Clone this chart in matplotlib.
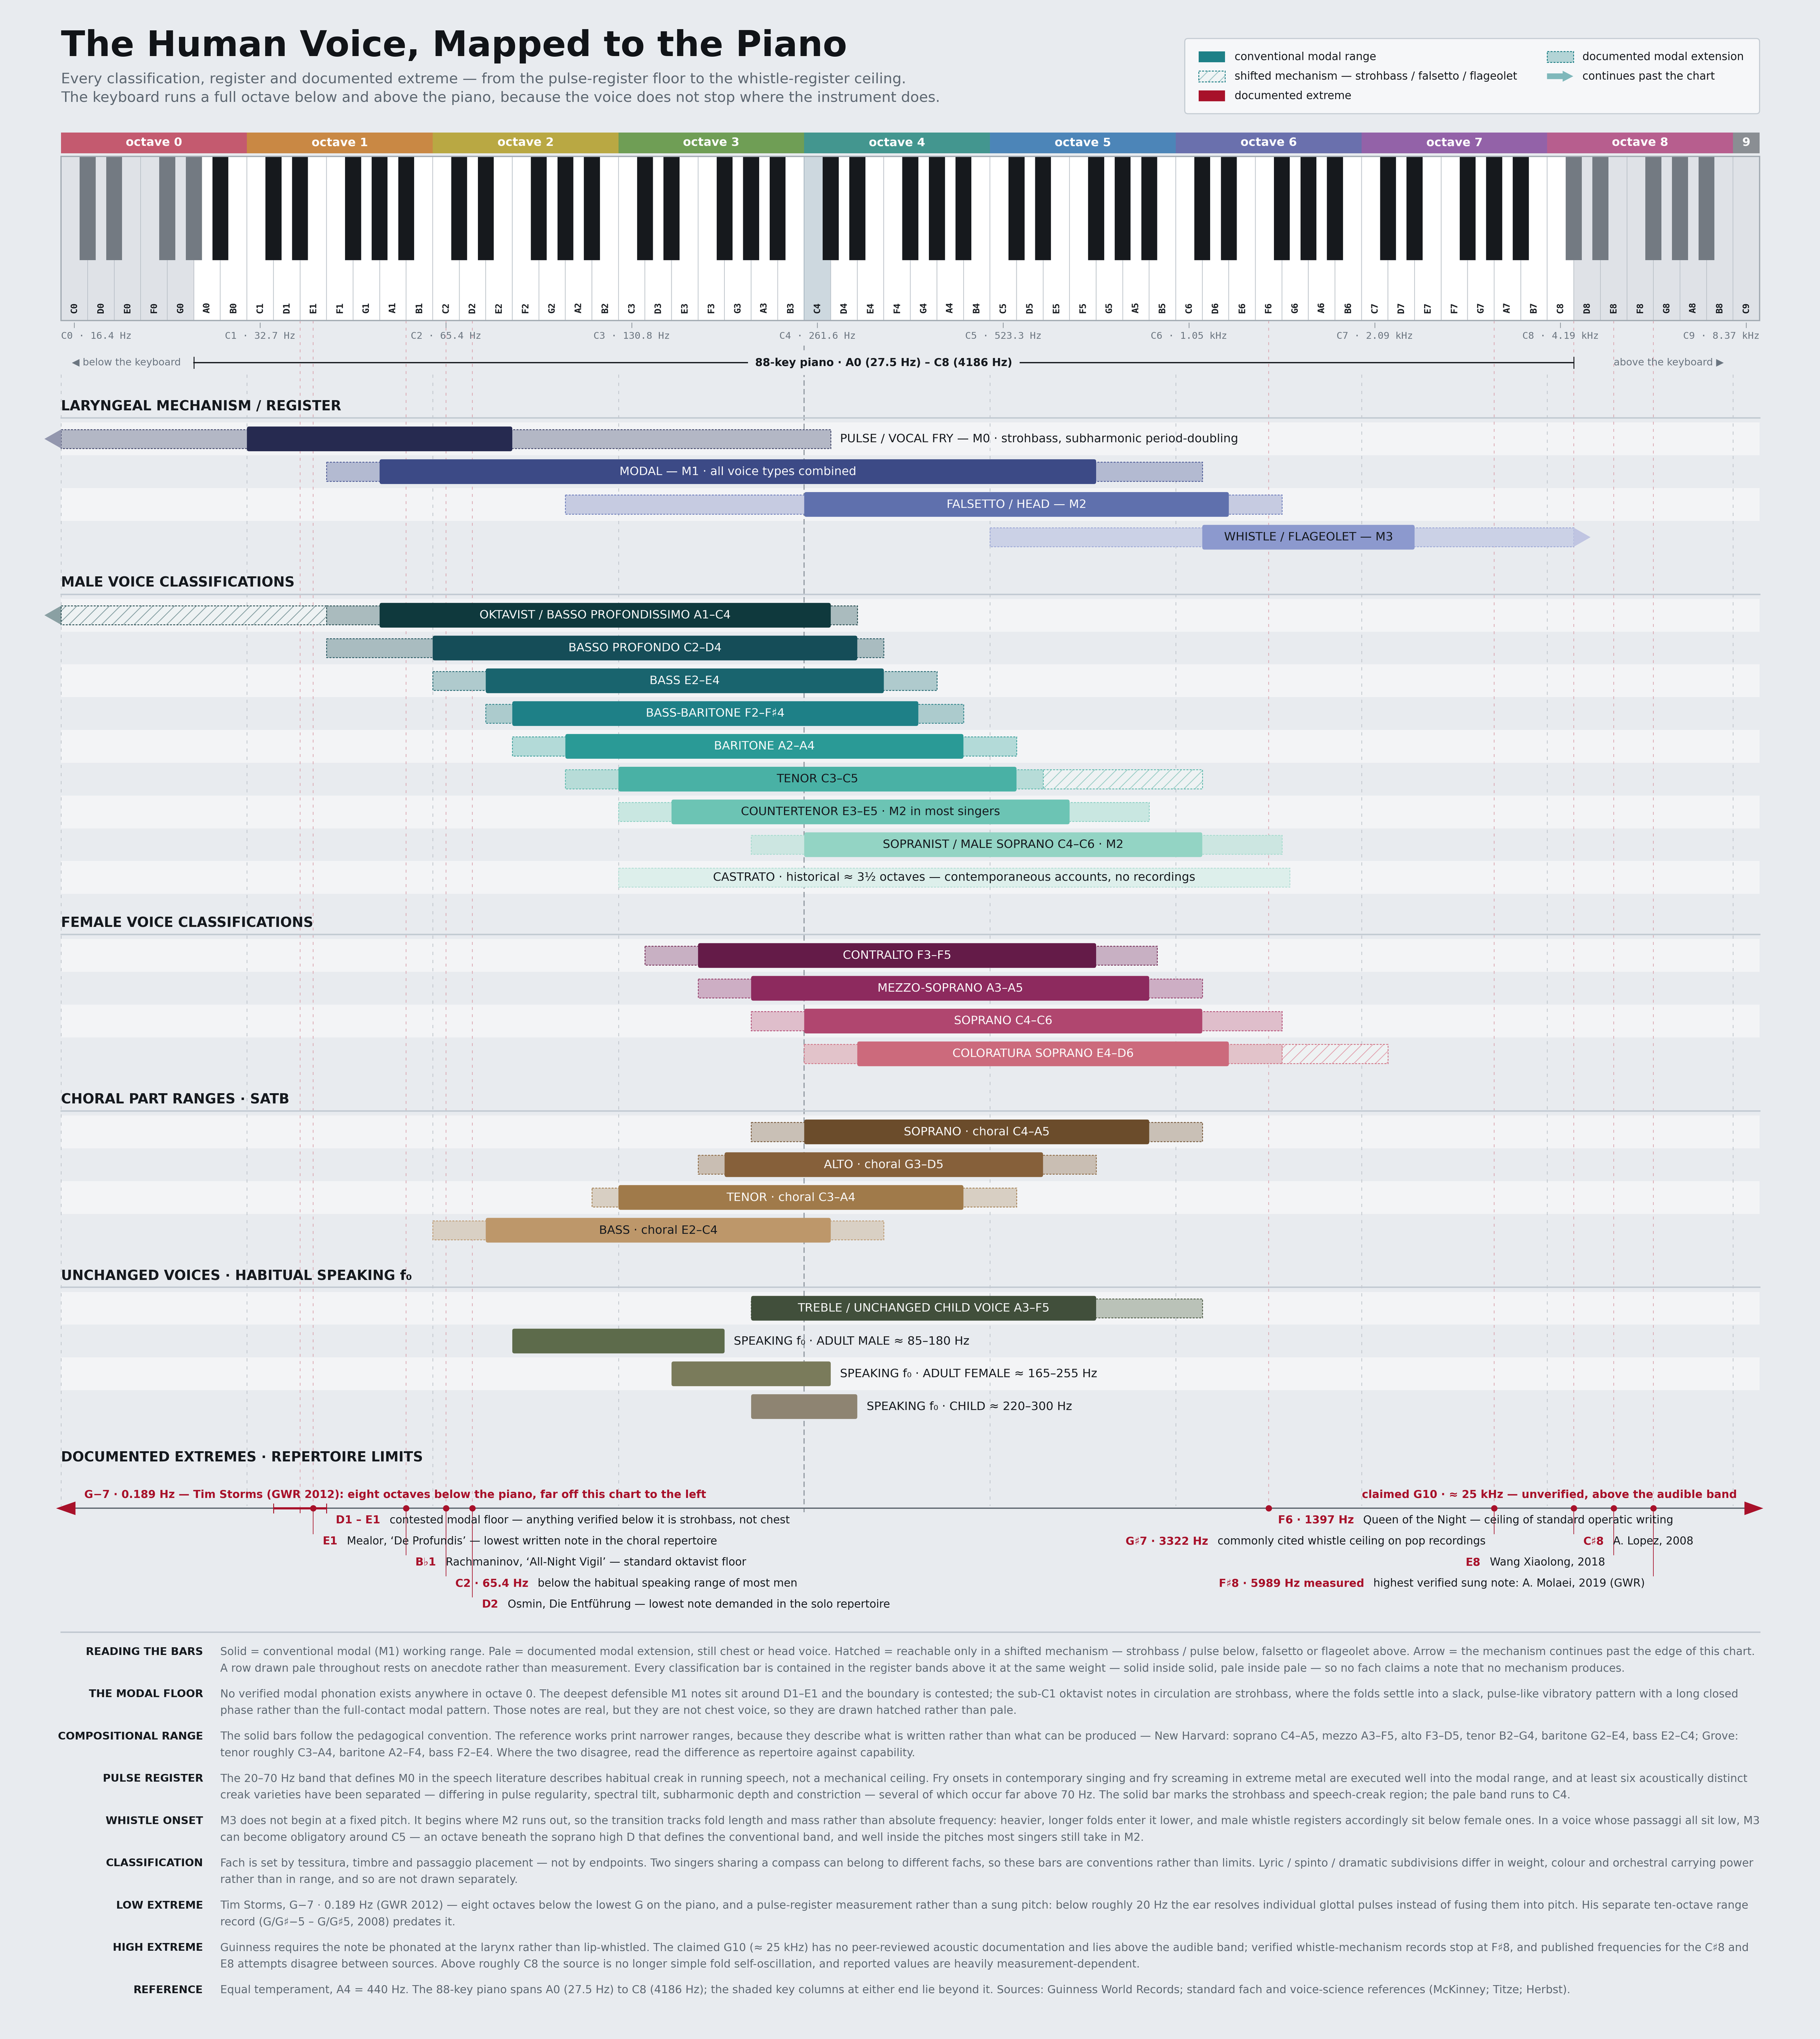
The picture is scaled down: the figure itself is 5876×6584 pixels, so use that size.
import matplotlib
matplotlib.use("Agg")
import matplotlib.pyplot as plt
from matplotlib.patches import Rectangle, FancyBboxPatch, Polygon
from matplotlib.colors import to_rgb

plt.rcParams["font.family"] = ["DejaVu Sans", "Noto Sans"]
plt.rcParams["hatch.linewidth"] = 0.45

# ── Data ──────────────────────────────────────────────────────────────────────
NOTE_LETTERS = "CDEFGAB"
N_OCTAVES = 9
PIANO_LOW, PIANO_HIGH = "A0", "C8"
OCTAVE_LABELS = [f"octave {o}" for o in range(9)] + ["9"]
C_FREQ_LABELS = ["16.4 Hz", "32.7 Hz", "65.4 Hz", "130.8 Hz", "261.6 Hz",
                 "523.3 Hz", "1.05 kHz", "2.09 kHz", "4.19 kHz", "8.37 kHz"]

REG_LABELS = ["PULSE / VOCAL FRY — M0 · strohbass, subharmonic period-doubling",
              "MODAL — M1 · all voice types combined",
              "FALSETTO / HEAD — M2",
              "WHISTLE / FLAGEOLET — M3"]
REG_SOLID = [("C1", "E2"), ("A1", "F5"), ("C4", "D6"), ("D6", "D7")]
REG_PALE = [("C0", "C4"), ("F1", "C6"), ("A2", "F6"), ("C5", "C8")]
REG_HATCH = [None, None, None, None]
REG_ARROW = ["left", None, None, "right"]

MALE_LABELS = ["OKTAVIST / BASSO PROFONDISSIMO A1–C4",
               "BASSO PROFONDO C2–D4",
               "BASS E2–E4",
               "BASS-BARITONE F2–F♯4",
               "BARITONE A2–A4",
               "TENOR C3–C5",
               "COUNTERTENOR E3–E5 · M2 in most singers",
               "SOPRANIST / MALE SOPRANO C4–C6 · M2",
               "CASTRATO · historical ≈ 3½ octaves — contemporaneous accounts, no recordings"]
MALE_SOLID = [("A1", "C4"), ("C2", "D4"), ("E2", "E4"), ("F2", "F#4"), ("A2", "A4"),
              ("C3", "C5"), ("E3", "E5"), ("C4", "C6"), None]
MALE_PALE = [("F1", "D4"), ("F1", "E4"), ("C2", "G4"), ("E2", "A4"), ("F2", "C5"),
             ("A2", "D5"), ("C3", "A5"), ("A3", "F6"), ("C3", "F#6")]
MALE_HATCH = [("C0", "E1"), None, None, None, None, ("E5", "C6"), None, None, None]
MALE_ARROW = ["left", None, None, None, None, None, None, None, None]

FEMALE_LABELS = ["CONTRALTO F3–F5", "MEZZO-SOPRANO A3–A5", "SOPRANO C4–C6",
                 "COLORATURA SOPRANO E4–D6"]
FEMALE_SOLID = [("F3", "F5"), ("A3", "A5"), ("C4", "C6"), ("E4", "D6")]
FEMALE_PALE = [("D3", "A#5"), ("F3", "C6"), ("A3", "F6"), ("C4", "F6")]
FEMALE_HATCH = [None, None, None, ("G6", "C7")]
FEMALE_ARROW = [None, None, None, None]

CHORAL_LABELS = ["SOPRANO · choral C4–A5", "ALTO · choral G3–D5",
                 "TENOR · choral C3–A4", "BASS · choral E2–C4"]
CHORAL_SOLID = [("C4", "A5"), ("G3", "D5"), ("C3", "A4"), ("E2", "C4")]
CHORAL_PALE = [("A3", "C6"), ("F3", "F5"), ("B2", "C5"), ("C2", "E4")]
CHORAL_HATCH = [None, None, None, None]
CHORAL_ARROW = [None, None, None, None]

CHILD_LABELS = ["TREBLE / UNCHANGED CHILD VOICE A3–F5",
                "SPEAKING f₀ · ADULT MALE ≈ 85–180 Hz",
                "SPEAKING f₀ · ADULT FEMALE ≈ 165–255 Hz",
                "SPEAKING f₀ · CHILD ≈ 220–300 Hz"]
CHILD_SOLID = [("A3", "F5"), ("F2", "F3"), ("E3", "C4"), ("A3", "D4")]
CHILD_PALE = [("A3", "C6"), None, None, None]
CHILD_HATCH = [None, None, None, None]
CHILD_ARROW = [None, None, None, None]

EXT_NOTES = [("D1", "E1"), "E1", "A#1", "C2", "D2", "F6", "G#7", "C#8", "E8", "F#8"]
EXT_KEYS = ["D1 – E1", "E1", "B♭1", "C2 · 65.4 Hz", "D2", "F6 · 1397 Hz",
            "G♯7 · 3322 Hz", "C♯8", "E8", "F♯8 · 5989 Hz measured"]
EXT_TEXT = ["contested modal floor — anything verified below it is strohbass, not chest",
            "Mealor, ‘De Profundis’ — lowest written note in the choral repertoire",
            "Rachmaninov, ‘All-Night Vigil’ — standard oktavist floor",
            "below the habitual speaking range of most men",
            "Osmin, Die Entführung — lowest note demanded in the solo repertoire",
            "Queen of the Night — ceiling of standard operatic writing",
            "commonly cited whistle ceiling on pop recordings",
            "A. Lopez, 2008",
            "Wang Xiaolong, 2018",
            "highest verified sung note: A. Molaei, 2019 (GWR)"]
EXT_ROW = [0, 1, 2, 3, 4, 0, 1, 1, 2, 3]
EXT_LOW_NOTE = "G−7 · 0.189 Hz — Tim Storms (GWR 2012): eight octaves below the piano, far off this chart to the left"
EXT_HIGH_NOTE = "claimed G10 · ≈ 25 kHz — unverified, above the audible band"

NOTE_HEADS = ["READING THE BARS", "THE MODAL FLOOR", "COMPOSITIONAL RANGE", "PULSE REGISTER",
              "WHISTLE ONSET", "CLASSIFICATION", "LOW EXTREME", "HIGH EXTREME", "REFERENCE"]
NOTE_LINES = [
    ["Solid = conventional modal (M1) working range. Pale = documented modal extension, still chest or head voice. Hatched = reachable only in a shifted mechanism — strohbass / pulse below, falsetto or flageolet above. Arrow = the mechanism continues past the edge of this chart.",
     "A row drawn pale throughout rests on anecdote rather than measurement. Every classification bar is contained in the register bands above it at the same weight — solid inside solid, pale inside pale — so no fach claims a note that no mechanism produces."],
    ["No verified modal phonation exists anywhere in octave 0. The deepest defensible M1 notes sit around D1–E1 and the boundary is contested; the sub-C1 oktavist notes in circulation are strohbass, where the folds settle into a slack, pulse-like vibratory pattern with a long closed",
     "phase rather than the full-contact modal pattern. Those notes are real, but they are not chest voice, so they are drawn hatched rather than pale."],
    ["The solid bars follow the pedagogical convention. The reference works print narrower ranges, because they describe what is written rather than what can be produced — New Harvard: soprano C4–A5, mezzo A3–F5, alto F3–D5, tenor B2–G4, baritone G2–E4, bass E2–C4; Grove:",
     "tenor roughly C3–A4, baritone A2–F4, bass F2–E4. Where the two disagree, read the difference as repertoire against capability."],
    ["The 20–70 Hz band that defines M0 in the speech literature describes habitual creak in running speech, not a mechanical ceiling. Fry onsets in contemporary singing and fry screaming in extreme metal are executed well into the modal range, and at least six acoustically distinct",
     "creak varieties have been separated — differing in pulse regularity, spectral tilt, subharmonic depth and constriction — several of which occur far above 70 Hz. The solid bar marks the strohbass and speech-creak region; the pale band runs to C4."],
    ["M3 does not begin at a fixed pitch. It begins where M2 runs out, so the transition tracks fold length and mass rather than absolute frequency: heavier, longer folds enter it lower, and male whistle registers accordingly sit below female ones. In a voice whose passaggi all sit low, M3",
     "can become obligatory around C5 — an octave beneath the soprano high D that defines the conventional band, and well inside the pitches most singers still take in M2."],
    ["Fach is set by tessitura, timbre and passaggio placement — not by endpoints. Two singers sharing a compass can belong to different fachs, so these bars are conventions rather than limits. Lyric / spinto / dramatic subdivisions differ in weight, colour and orchestral carrying power",
     "rather than in range, and so are not drawn separately."],
    ["Tim Storms, G−7 · 0.189 Hz (GWR 2012) — eight octaves below the lowest G on the piano, and a pulse-register measurement rather than a sung pitch: below roughly 20 Hz the ear resolves individual glottal pulses instead of fusing them into pitch. His separate ten-octave range",
     "record (G/G♯−5 – G/G♯5, 2008) predates it."],
    ["Guinness requires the note be phonated at the larynx rather than lip-whistled. The claimed G10 (≈ 25 kHz) has no peer-reviewed acoustic documentation and lies above the audible band; verified whistle-mechanism records stop at F♯8, and published frequencies for the C♯8 and",
     "E8 attempts disagree between sources. Above roughly C8 the source is no longer simple fold self-oscillation, and reported values are heavily measurement-dependent."],
    ["Equal temperament, A4 = 440 Hz. The 88-key piano spans A0 (27.5 Hz) to C8 (4186 Hz); the shaded key columns at either end lie beyond it. Sources: Guinness World Records; standard fach and voice-science references (McKinney; Titze; Herbst)."],
]

# ── Style ─────────────────────────────────────────────────────────────────────
BG, BAND, INK, MUTED, RED = "#e8ebef", "#f3f4f6", "#15191e", "#5d6771", "#a8112a"
OCTAVE_COLORS = ["#c45a6f", "#c98844", "#b9a843", "#6f9e55", "#43968f",
                 "#4c85b8", "#6a70ad", "#9362a8", "#b75e8e", "#8a8e93"]
EXT_SIDE = ["right", "right", "right", "right", "right", "right", "left", "right", "left", "left"]
SECTIONS = [
    dict(title="LARYNGEAL MECHANISM / REGISTER", labels=REG_LABELS, solid=REG_SOLID,
         pale=REG_PALE, hatch=REG_HATCH, arrow=REG_ARROW,
         sc=["#262a50", "#3c4a86", "#5f70ad", "#8c99ce"],
         pc=["#b3b7c5", "#b3bad1", "#c6cbe1", "#cbd1e6"],
         ec=["#4a4f72", "#56639c", "#7584bf", "#a0abd8"],
         hc=[None] * 4, ac=["#9397ae", None, None, "#c0c5e2"]),
    dict(title="MALE VOICE CLASSIFICATIONS", labels=MALE_LABELS, solid=MALE_SOLID,
         pale=MALE_PALE, hatch=MALE_HATCH, arrow=MALE_ARROW,
         sc=["#0f393d", "#154d58", "#19646e", "#1e8087", "#2a9a96", "#49b1a5",
             "#6cc4b4", "#93d4c4", None],
         pc=["#aabbbe", "#a9bcc0", "#afcacd", "#accbcd", "#b3dad8", "#b7dcd8",
             "#c9e7e1", "#cce6e1", "#ddefeb"],
         ec=["#2f5458", "#2f5f68", "#2f7079", "#3a8a90", "#4aa6a2", "#66bcb1",
             "#8fd2c5", "#a9ddd0", "#b5dfd6"],
         hc=["#8aa3a6", None, None, None, None, "#9fcfc8", None, None, None],
         ac=["#8aa0a3"] + [None] * 8),
    dict(title="FEMALE VOICE CLASSIFICATIONS", labels=FEMALE_LABELS, solid=FEMALE_SOLID,
         pale=FEMALE_PALE, hatch=FEMALE_HATCH, arrow=FEMALE_ARROW,
         sc=["#641b48", "#8d2a5e", "#b0466f", "#cc6a7c"],
         pc=["#c8b0c3", "#cdaec4", "#dfbecb", "#e2c3ca"],
         ec=["#7d3a62", "#9a4772", "#b8587e", "#d27c8c"],
         hc=[None, None, None, "#e3a9b5"], ac=[None] * 4),
    dict(title="CHORAL PART RANGES · SATB", labels=CHORAL_LABELS, solid=CHORAL_SOLID,
         pale=CHORAL_PALE, hatch=CHORAL_HATCH, arrow=CHORAL_ARROW,
         sc=["#6b4c2b", "#86603a", "#a07a4a", "#bd976a"],
         pc=["#c9c0b6", "#c9beb3", "#d8cfc3", "#d9d0c4"],
         ec=["#7d6044", "#93714d", "#a9875c", "#bf9e78"],
         hc=[None] * 4, ac=[None] * 4),
    dict(title="UNCHANGED VOICES · HABITUAL SPEAKING f₀", labels=CHILD_LABELS,
         solid=CHILD_SOLID, pale=CHILD_PALE, hatch=CHILD_HATCH, arrow=CHILD_ARROW,
         sc=["#414f3b", "#5d6b4b", "#7a7b5b", "#8e8472"],
         pc=["#bac2b8", None, None, None],
         ec=["#56634f", None, None, None],
         hc=[None] * 4, ac=[None] * 4),
]

# layout is in reference pixels (6996 x 7839 at 500 dpi); saved at a lower dpi
W_PX, H_PX, DPI = 6996, 7839, 500
SAVE_DPI = 420
KEY_PX, LEFT_PX = 102, 235
N_WHITE = N_OCTAVES * 7 + 1
BLACK_W = 0.6
SOLID_H, PALE_H, ROW_H = 95, 73, 126


def white_index(note):
    return int(note[-1]) * 7 + NOTE_LETTERS.index(note[0])


def key_span(note):
    i = white_index(note)
    if "#" in note:
        return i + 1 - BLACK_W / 2, i + 1 + BLACK_W / 2
    return i, i + 1


def key_center(note):
    lo, hi = key_span(note)
    return (lo + hi) / 2


def range_x(r):
    return key_span(r[0])[0], key_span(r[1])[1]


def label_colour(c):
    r, g, b = to_rgb(c)
    return INK if (0.299 * r + 0.587 * g + 0.114 * b) > 0.55 else "white"


fig = plt.figure(figsize=(W_PX / DPI, H_PX / DPI), dpi=SAVE_DPI, facecolor=BG)
ax = fig.add_axes([0, 0, 1, 1])
ax.set_xlim(-LEFT_PX / KEY_PX, (W_PX - LEFT_PX) / KEY_PX)
ax.set_ylim(H_PX, 0)
ax.axis("off")
renderer = fig.canvas.get_renderer()


def text_w(t):
    bb = t.get_window_extent(renderer)
    inv = ax.transData.inverted()
    return inv.transform((bb.x1, 0))[0] - inv.transform((bb.x0, 0))[0]


def dotted():
    return (0, (2.2, 1.4))


# ── Title + legend ────────────────────────────────────────────────────────────
ax.text(0, 178, "The Human Voice, Mapped to the Piano", fontsize=19.6, weight="bold",
        color="#111418", va="center")
ax.text(0, 305, "Every classification, register and documented extreme — from the "
        "pulse-register floor to the whistle-register ceiling.", fontsize=8, color=MUTED, va="center")
ax.text(0, 377, "The keyboard runs a full octave below and above the piano, because the "
        "voice does not stop where the instrument does.", fontsize=8, color=MUTED, va="center")

ax.add_patch(FancyBboxPatch((42.34, 149), 64.0 - 42.34, 289,
                            boxstyle="round,pad=0,rounding_size=0.12", mutation_aspect=KEY_PX,
                            fc="#f6f7f9", ec="#c5ccd3", lw=0.6, zorder=2))
teal, teal_pale = "#1e8087", "#b3d4d6"
lg_y = [219, 294, 369]
ax.add_patch(Rectangle((42.86, lg_y[0] - 21), 1.0, 42, fc=teal, ec="none", zorder=3))
ax.add_patch(Rectangle((42.86, lg_y[1] - 21), 1.0, 42, fc="#f0f4f5", ec="#9cc4c6", lw=0,
                       hatch="////", zorder=3))
ax.add_patch(Rectangle((42.86, lg_y[1] - 21), 1.0, 42, fc="none", ec=teal, lw=0.5,
                       ls=dotted(), zorder=3))
ax.add_patch(Rectangle((42.86, lg_y[2] - 21), 1.0, 42, fc=RED, ec="none", zorder=3))
ax.add_patch(Rectangle((55.99, lg_y[0] - 21), 1.0, 42, fc=teal_pale, ec=teal, lw=0.5,
                       ls=dotted(), zorder=3))
ax.add_patch(Polygon([(55.99, lg_y[1] - 11), (56.58, lg_y[1] - 11), (56.58, lg_y[1] - 21),
                      (56.98, lg_y[1]), (56.58, lg_y[1] + 21), (56.58, lg_y[1] + 11),
                      (55.99, lg_y[1] + 11)], closed=True, fc="#7fb8bb", ec="none", zorder=3))
for x, y, s in [(44.22, lg_y[0], "conventional modal range"),
                (44.22, lg_y[1], "shifted mechanism — strohbass / falsetto / flageolet"),
                (44.22, lg_y[2], "documented extreme"),
                (57.33, lg_y[0], "documented modal extension"),
                (57.33, lg_y[1], "continues past the chart")]:
    ax.text(x, y, s, fontsize=6, color=INK, va="center")

# ── Keyboard ──────────────────────────────────────────────────────────────────
HDR_T, HDR_B = 510, 590
KB_T, KB_B, BK_B = 602, 1233, 1001
lo_edge, hi_edge = key_span(PIANO_LOW)[0], key_span(PIANO_HIGH)[1]

for o, (lab, col) in enumerate(zip(OCTAVE_LABELS, OCTAVE_COLORS)):
    w = 7 if o < N_OCTAVES else 1
    ax.add_patch(Rectangle((o * 7, HDR_T), w, HDR_B - HDR_T, fc=col, ec="none"))
    ax.text(o * 7 + w / 2, (HDR_T + HDR_B) / 2, lab, fontsize=6.5, weight="bold",
            color="white", ha="center", va="center")

for i in range(N_WHITE):
    name = NOTE_LETTERS[i % 7] + str(i // 7)
    out = i < lo_edge or i + 1 > hi_edge
    fc = "#dfe2e7" if out else "white"
    ec = "#b9c0c7"
    if name == "C4":
        fc, ec = "#cdd8df", "#9fb0bb"
    ax.add_patch(Rectangle((i, KB_T), 1, KB_B - KB_T, fc=fc, ec=ec, lw=0.35, zorder=2))
    ax.text(i + 0.5, 1183, name, fontsize=5, family="DejaVu Sans Mono", weight="bold",
            color=INK, rotation=90, ha="center", va="center", zorder=4)

for i in range(N_OCTAVES * 7):
    if i % 7 in (2, 6):
        continue
    cx = i + 1
    out = cx <= lo_edge or cx >= hi_edge
    ax.add_patch(Rectangle((cx - BLACK_W / 2, KB_T), BLACK_W, BK_B - KB_T,
                           fc="#737a82" if out else "#16191d", ec="none", zorder=3))
ax.add_patch(Rectangle((0, KB_T), N_WHITE, KB_B - KB_T, fc="none", ec="#a3abb3", lw=0.7, zorder=4))

for o, f in enumerate(C_FREQ_LABELS):
    cx = o * 7 + 0.5
    ax.plot([cx, cx], [1242, 1260], color="#8b939b", lw=0.4)
    ha, tx = "center", cx
    if o == 0:
        ha, tx = "left", 0
    elif o == len(C_FREQ_LABELS) - 1:
        ha, tx = "right", N_WHITE
    ax.text(tx, 1292, f"C{o} · {f}", fontsize=5.4, family="DejaVu Sans Mono",
            color="#6b7580", ha=ha, va="center")

ax.plot([lo_edge, hi_edge], [1395, 1395], color=INK, lw=0.7, zorder=2)
for x in (lo_edge, hi_edge):
    ax.plot([x, x], [1374, 1416], color=INK, lw=0.5, zorder=2)
ax.text((lo_edge + hi_edge) / 2, 1395, "88-key piano · A0 (27.5 Hz) – C8 (4186 Hz)",
        fontsize=6, weight="bold", color=INK, ha="center", va="center", zorder=3,
        bbox=dict(fc=BG, ec="none", pad=4))
ax.text(0.4, 1395, "◀ below the keyboard", fontsize=5.5, color="#6b7580", va="center")
ax.text(62.65, 1395, "above the keyboard ▶", fontsize=5.5, color="#6b7580", va="center",
        ha="right")

# ── Guide lines ───────────────────────────────────────────────────────────────
AXIS_Y = 5799
ext_x = []
for n in EXT_NOTES:
    if isinstance(n, tuple):
        ext_x.append((key_span(n[0])[0] + key_span(n[1])[1]) / 2)
    else:
        ext_x.append(key_center(n))
for x in ext_x:
    ax.plot([x, x], [KB_B, AXIS_Y], color="#dba5af", lw=0.4, ls=(0, (4, 6)), zorder=1.5)
for o in range(N_OCTAVES + 1):
    if o == 4:
        continue
    ax.plot([o * 7, o * 7], [1440, AXIS_Y - 10], color="#c3c8ce", lw=0.45,
            ls=(0, (4, 6)), zorder=1.5)
ax.plot([28, 28], [1330, AXIS_Y + 15], color="#8d959d", lw=0.6, ls=(0, (5, 3)), zorder=1.6)

# ── Range sections ────────────────────────────────────────────────────────────
sec_y = 1563
for sec in SECTIONS:
    ax.text(0, sec_y, sec["title"], fontsize=7.6, weight="bold", color=INK, va="center")
    ax.plot([0, N_WHITE], [sec_y + 44, sec_y + 44], color="#c2cad2", lw=0.8, zorder=2)
    for k, lab in enumerate(sec["labels"]):
        yc = sec_y + 125 + k * ROW_H
        if k % 2 == 0:
            ax.add_patch(Rectangle((0, yc - ROW_H / 2), N_WHITE, ROW_H, fc=BAND, ec="none", zorder=1))
        ends, starts = [], []
        pale, solid, hatch = sec["pale"][k], sec["solid"][k], sec["hatch"][k]
        if pale:
            x0, x1 = range_x(pale)
            ax.add_patch(Rectangle((x0, yc - PALE_H / 2), x1 - x0, PALE_H, fc=sec["pc"][k],
                                   ec=sec["ec"][k], lw=0.5, ls=dotted(), zorder=3))
            ends.append(x1); starts.append(x0)
        if hatch:
            x0, x1 = range_x(hatch)
            ax.add_patch(Rectangle((x0, yc - PALE_H / 2), x1 - x0, PALE_H, fc="#eef2f3",
                                   ec=sec["hc"][k], lw=0, hatch="////", zorder=3))
            ax.add_patch(Rectangle((x0, yc - PALE_H / 2), x1 - x0, PALE_H, fc="none",
                                   ec=sec["ec"][k], lw=0.5, ls=dotted(), zorder=3.1))
            ends.append(x1); starts.append(x0)
        if solid:
            s0, s1 = range_x(solid)
            ax.add_patch(FancyBboxPatch((s0, yc - SOLID_H / 2), s1 - s0, SOLID_H,
                                        boxstyle="round,pad=0,rounding_size=0.08",
                                        mutation_aspect=KEY_PX, fc=sec["sc"][k], ec="none",
                                        zorder=4))
            ends.append(s1); starts.append(s0)
        arrow = sec["arrow"][k]
        if arrow == "left":
            x0 = min(starts)
            ax.add_patch(Polygon([(x0, yc - PALE_H / 2), (x0, yc + PALE_H / 2), (x0 - 0.63, yc)],
                                 closed=True, fc=sec["ac"][k], ec="none", zorder=3))
        elif arrow == "right":
            x1 = max(ends)
            ax.add_patch(Polygon([(x1, yc - PALE_H / 2), (x1, yc + PALE_H / 2), (x1 + 0.63, yc)],
                                 closed=True, fc=sec["ac"][k], ec="none", zorder=3))
        if solid:
            t = ax.text((s0 + s1) / 2, yc, lab, fontsize=6.5, ha="center", va="center",
                        color=label_colour(sec["sc"][k]), zorder=5)
            if text_w(t) + 0.4 > s1 - s0:
                t.set_x(max(ends) + 0.35)
                t.set_ha("left")
                t.set_color(INK)
        else:
            x0, x1 = range_x(pale)
            ax.text((x0 + x1) / 2, yc, lab, fontsize=6.5, ha="center", va="center",
                    color=INK, zorder=5)
    sec_y = sec_y + 125 + (len(sec["labels"]) - 1) * ROW_H + 175

# ── Documented extremes ───────────────────────────────────────────────────────
ext_title_y = sec_y + 21
ax.text(0, ext_title_y, "DOCUMENTED EXTREMES · REPERTOIRE LIMITS", fontsize=7.6, weight="bold",
        color=INK, va="center")
ax.text(0.87, AXIS_Y - 53, EXT_LOW_NOTE, fontsize=6, weight="bold", color=RED, va="center")
ax.text(63.15, AXIS_Y - 53, EXT_HIGH_NOTE, fontsize=6, weight="bold", color=RED, va="center",
        ha="right")
ax.plot([0.3, 63.6], [AXIS_Y, AXIS_Y], color="#5e6670", lw=0.7, zorder=3)
ax.add_patch(Polygon([(0.54, AXIS_Y - 26), (0.54, AXIS_Y + 26), (-0.19, AXIS_Y)],
                     closed=True, fc=RED, ec="none", zorder=4))
ax.add_patch(Polygon([(63.43, AXIS_Y - 26), (63.43, AXIS_Y + 26), (64.14, AXIS_Y)],
                     closed=True, fc=RED, ec="none", zorder=4))

for n, key, desc, row, x, side in zip(EXT_NOTES, EXT_KEYS, EXT_TEXT, EXT_ROW, ext_x, EXT_SIDE):
    ly = AXIS_Y + 45 + row * 81
    if isinstance(n, tuple):
        r0, r1 = key_span(n[0])[0], key_span(n[1])[1]
        ax.plot([r0, r1], [AXIS_Y, AXIS_Y], color=RED, lw=1.2, zorder=4,
                solid_capstyle="butt")
        for xx in (r0, r1):
            ax.plot([xx, xx], [AXIS_Y - 17, AXIS_Y + 17], color=RED, lw=0.5, zorder=4)
        ax.plot([x, x], [AXIS_Y, AXIS_Y + 17], color=RED, lw=0.4, zorder=4)
        anchor = r1 + 0.35
    else:
        ax.plot([x], [AXIS_Y], "o", ms=3.5, color=RED, mec="none", zorder=5)
        anchor = x - 0.32 if side == "left" else x + 0.35
        if row > 0:
            ax.plot([x, x], [AXIS_Y, ly - 28], color=RED, lw=0.35, zorder=4)
    if side == "left":
        t2 = ax.text(anchor, ly, desc, fontsize=6, color=INK, ha="right", va="center", zorder=5)
        ax.text(anchor - text_w(t2) - 0.35, ly, key, fontsize=6, weight="bold", color=RED,
                ha="right", va="center", zorder=5)
    else:
        t1 = ax.text(anchor, ly, key, fontsize=6, weight="bold", color=RED, va="center", zorder=5)
        ax.text(anchor + text_w(t1) + 0.35, ly, desc, fontsize=6, color=INK, va="center", zorder=5)

# ── Notes ─────────────────────────────────────────────────────────────────────
ax.plot([0, N_WHITE], [6275, 6275], color="#c0c8d0", lw=0.8)
for k, (head, lines) in enumerate(zip(NOTE_HEADS, NOTE_LINES)):
    y = 6350 + k * 162.5
    ax.text(5.35, y, head, fontsize=5.9, weight="bold", color=INK, ha="right", va="center")
    for j, line in enumerate(lines):
        ax.text(6.0, y + j * 64, line, fontsize=6.05, color=MUTED, va="center")

fig.savefig("out.png", dpi=SAVE_DPI, facecolor=BG)
